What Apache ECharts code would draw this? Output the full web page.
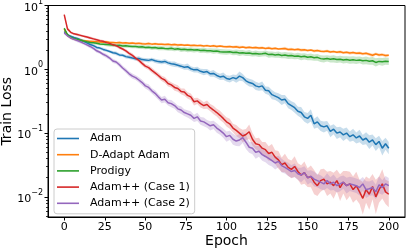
<!DOCTYPE html>
<html>
<head>
<meta charset="utf-8">
<script src="https://cdn.jsdelivr.net/npm/echarts@6/dist/echarts.min.js"></script>
<style>html,body{margin:0;padding:0;background:#fff}#c{width:407px;height:249px}</style>
</head>
<body>
<div id="c"></div>
<script>
// epochs sampled every 2
const epochs = Array.from({length: 101}, (_, i) => i * 2);
const xTicks = [0, 25, 50, 75, 100, 125, 150, 175, 200];
const yTicks = [0.01, 0.1, 1, 10];
const yMinorTicks = [0.005,0.006,0.007,0.008,0.009,0.02,0.03,0.04,0.05,0.06,0.07,0.08,0.09,0.2,0.3,0.4,0.5,0.6,0.7,0.8,0.9,2,3,4,5,6,7,8,9];
const names = ['Adam', 'D-Adapt Adam', 'Prodigy', 'Adam++ (Case 1)', 'Adam++ (Case 2)'];
const colors = ['#1f77b4', '#ff7f0e', '#2ca02c', '#d62728', '#9467bd'];
const bandColors = ['rgba(31,119,180,0.25)', 'rgba(255,127,14,0.25)', 'rgba(44,160,44,0.25)', 'rgba(214,39,40,0.22)', 'rgba(148,103,189,0.25)'];

const adam = [3.9,3.45,3.3,3.15,3.05,2.9,2.75,2.6,2.45,2.35,
 2.2,2.15,2.05,1.98,1.9,1.82,1.78,1.68,1.66,1.58,
 1.55,1.5,1.46,1.48,1.42,1.4,1.38,1.42,1.36,1.32,
 1.3,1.33,1.26,1.22,1.2,1.16,1.12,1.08,1.1,1.02,
 0.98,0.99,0.93,0.9,0.92,0.85,0.86,0.8,0.76,0.78,
 0.72,0.7,0.74,0.71,0.78,0.74,0.66,0.62,0.6,0.55,
 0.53,0.55,0.47,0.46,0.4,0.38,0.36,0.33,0.34,0.29,
 0.27,0.25,0.22,0.21,0.18,0.17,0.19,0.14,0.15,0.13,
 0.125,0.13,0.106,0.115,0.1,0.104,0.094,0.1,0.088,0.094,
 0.084,0.09,0.078,0.083,0.072,0.078,0.066,0.074,0.058,0.068,
 0.058];
const dadapt = [4.3,3.4,3.1,2.98,2.9,2.85,2.8,2.78,2.74,2.72,
 2.7,2.68,2.66,2.7,2.64,2.62,2.6,2.64,2.58,2.6,
 2.56,2.58,2.54,2.56,2.52,2.5,2.54,2.48,2.52,2.46,
 2.48,2.44,2.47,2.42,2.45,2.4,2.43,2.38,2.41,2.36,
 2.38,2.35,2.37,2.32,2.35,2.3,2.33,2.28,2.31,2.27,
 2.25,2.28,2.23,2.26,2.2,2.24,2.18,2.21,2.17,2.2,
 2.15,2.18,2.12,2.16,2.1,2.13,2.08,2.1,2.12,2.05,
 2.07,2.03,2.06,2.0,2.02,1.97,2.0,1.94,1.97,1.92,
 1.9,1.93,1.87,1.9,1.85,1.88,1.82,1.85,1.8,1.83,
 1.78,1.8,1.75,1.78,1.72,1.66,1.74,1.68,1.7,1.64,
 1.66];
const prodigy = [4.4,3.5,3.2,3.05,2.95,2.85,2.78,2.7,2.64,2.6,
 2.55,2.5,2.48,2.44,2.42,2.4,2.36,2.38,2.32,2.33,
 2.3,2.27,2.28,2.24,2.25,2.2,2.22,2.17,2.19,2.14,
 2.15,2.12,2.1,2.13,2.07,2.1,2.04,2.06,2.02,2.04,
 2.0,2.02,1.97,1.99,1.95,1.96,1.92,1.94,1.89,1.87,
 1.86,1.88,1.83,1.85,1.8,1.82,1.78,1.8,1.75,1.77,
 1.73,1.75,1.78,1.7,1.72,1.68,1.7,1.65,1.67,1.63,
 1.64,1.6,1.62,1.57,1.6,1.55,1.57,1.52,1.54,1.47,
 1.45,1.48,1.44,1.46,1.42,1.44,1.4,1.42,1.39,1.41,
 1.38,1.4,1.36,1.38,1.34,1.36,1.28,1.33,1.31,1.34,
 1.33];
const case1 = [7.2,4.3,3.8,3.6,3.5,3.4,3.3,3.2,3.1,3.0,
 2.9,2.8,2.75,2.62,2.55,2.42,2.35,2.2,2.08,1.95,
 1.78,1.65,1.5,1.38,1.24,1.12,1.06,0.96,0.88,0.8,
 0.72,0.68,0.6,0.57,0.52,0.5,0.45,0.44,0.39,0.37,
 0.31,0.32,0.29,0.27,0.28,0.25,0.23,0.21,0.19,0.17,
 0.15,0.14,0.12,0.11,0.1,0.09,0.095,0.105,0.08,0.068,
 0.066,0.058,0.055,0.048,0.05,0.042,0.038,0.032,0.034,0.029,
 0.027,0.03,0.025,0.022,0.024,0.02,0.021,0.017,0.015,0.018,
 0.019,0.016,0.017,0.015,0.018,0.014,0.017,0.015,0.016,0.013,
 0.015,0.012,0.0095,0.013,0.011,0.0145,0.01,0.013,0.016,0.012,
 0.011];
const case2 = [3.7,3.35,3.1,2.95,2.82,2.7,2.55,2.42,2.28,2.12,
 1.95,1.85,1.72,1.62,1.5,1.35,1.3,1.18,1.05,0.95,
 0.85,0.78,0.74,0.68,0.62,0.55,0.52,0.46,0.42,0.37,
 0.33,0.34,0.3,0.29,0.27,0.24,0.23,0.21,0.2,0.19,
 0.17,0.18,0.155,0.15,0.14,0.13,0.135,0.12,0.11,0.1,
 0.088,0.092,0.08,0.075,0.078,0.085,0.072,0.06,0.058,0.05,
 0.052,0.046,0.043,0.04,0.037,0.034,0.036,0.031,0.029,0.027,
 0.025,0.026,0.023,0.022,0.024,0.02,0.021,0.019,0.018,0.017,
 0.016,0.018,0.016,0.017,0.015,0.016,0.017,0.015,0.016,0.0155,
 0.015,0.014,0.016,0.013,0.0134,0.014,0.012,0.0155,0.014,0.016,
 0.015];

// band half-widths as multiplicative factors (upper = v*f, lower = v/f)
const adamSpread = [1.05,1.05,1.04,1.05,1.05,1.06,1.05,1.05,1.06,1.05,
 1.06,1.05,1.06,1.06,1.05,1.06,1.07,1.06,1.06,1.07,
 1.07,1.06,1.07,1.08,1.07,1.07,1.08,1.07,1.08,1.08,
 1.08,1.09,1.08,1.09,1.1,1.08,1.09,1.1,1.12,1.09,
 1.1,1.11,1.1,1.12,1.1,1.11,1.13,1.11,1.12,1.14,
 1.12,1.13,1.12,1.15,1.18,1.14,1.13,1.15,1.14,1.16,
 1.15,1.17,1.14,1.16,1.18,1.15,1.17,1.2,1.16,1.18,
 1.17,1.2,1.18,1.22,1.19,1.21,1.25,1.2,1.23,1.2,
 1.22,1.19,1.23,1.2,1.24,1.21,1.25,1.22,1.2,1.24,
 1.22,1.25,1.2,1.24,1.28,1.22,1.26,1.23,1.3,1.24,
 1.25];
const dadaptSpread = [1.04,1.04,1.03,1.04,1.04,1.03,1.04,1.04,1.03,1.04,
 1.04,1.03,1.04,1.05,1.04,1.04,1.03,1.04,1.05,1.04,
 1.04,1.05,1.04,1.04,1.05,1.04,1.05,1.04,1.04,1.05,
 1.05,1.04,1.05,1.04,1.05,1.05,1.04,1.05,1.04,1.05,
 1.04,1.05,1.05,1.04,1.05,1.04,1.05,1.05,1.04,1.05,
 1.05,1.04,1.05,1.05,1.06,1.04,1.05,1.05,1.04,1.05,
 1.05,1.05,1.04,1.06,1.05,1.05,1.04,1.05,1.06,1.05,
 1.05,1.04,1.05,1.06,1.05,1.05,1.04,1.06,1.05,1.05,
 1.05,1.06,1.05,1.04,1.05,1.06,1.05,1.05,1.06,1.05,
 1.05,1.06,1.05,1.05,1.06,1.07,1.05,1.06,1.05,1.06,
 1.05];
const prodigySpread = [1.05,1.05,1.04,1.05,1.05,1.05,1.06,1.05,1.05,1.06,
 1.06,1.06,1.05,1.06,1.07,1.06,1.06,1.07,1.06,1.07,
 1.07,1.06,1.07,1.07,1.08,1.07,1.07,1.08,1.07,1.08,
 1.08,1.07,1.08,1.09,1.08,1.08,1.09,1.08,1.09,1.09,
 1.09,1.08,1.09,1.1,1.09,1.09,1.1,1.09,1.1,1.1,
 1.1,1.09,1.1,1.1,1.11,1.1,1.1,1.11,1.1,1.11,
 1.11,1.1,1.11,1.12,1.11,1.11,1.12,1.11,1.12,1.12,
 1.12,1.11,1.12,1.13,1.12,1.12,1.13,1.12,1.13,1.13,
 1.13,1.12,1.13,1.14,1.13,1.13,1.14,1.13,1.14,1.14,
 1.14,1.13,1.14,1.15,1.14,1.15,1.16,1.14,1.15,1.14,
 1.14];
const case1Spread = [1.05,1.06,1.05,1.04,1.05,1.05,1.04,1.05,1.05,1.05,
 1.05,1.06,1.05,1.06,1.05,1.06,1.06,1.07,1.06,1.07,
 1.07,1.08,1.07,1.08,1.09,1.08,1.09,1.1,1.09,1.1,
 1.1,1.11,1.12,1.1,1.13,1.12,1.11,1.14,1.12,1.13,
 1.14,1.12,1.15,1.13,1.16,1.14,1.17,1.15,1.18,1.16,
 1.18,1.2,1.17,1.22,1.2,1.25,1.22,1.3,1.25,1.22,
 1.28,1.25,1.32,1.3,1.35,1.28,1.38,1.3,1.4,1.35,
 1.38,1.45,1.35,1.42,1.5,1.4,1.48,1.55,1.45,1.5,
 1.45,1.55,1.5,1.6,1.48,1.62,1.5,1.7,1.55,1.6,
 1.65,1.55,1.8,1.6,1.75,1.58,1.85,1.6,1.7,1.55,
 1.6];
const case2Spread = [1.05,1.05,1.06,1.05,1.06,1.06,1.05,1.06,1.07,1.06,
 1.07,1.06,1.07,1.08,1.07,1.08,1.07,1.09,1.08,1.09,
 1.09,1.1,1.09,1.1,1.11,1.1,1.12,1.1,1.12,1.11,
 1.12,1.13,1.11,1.14,1.12,1.13,1.15,1.13,1.14,1.16,
 1.14,1.16,1.15,1.17,1.15,1.18,1.16,1.19,1.17,1.18,
 1.2,1.18,1.22,1.2,1.25,1.21,1.28,1.22,1.24,1.26,
 1.22,1.25,1.23,1.27,1.24,1.26,1.23,1.28,1.25,1.27,
 1.25,1.28,1.24,1.3,1.26,1.28,1.25,1.3,1.27,1.29,
 1.26,1.3,1.27,1.32,1.28,1.3,1.27,1.33,1.29,1.3,
 1.3,1.33,1.28,1.35,1.3,1.32,1.29,1.36,1.3,1.33,
 1.32];

const means = [adam, dadapt, prodigy, case1, case2];
const spreads = [adamSpread, dadaptSpread, prodigySpread, case1Spread, case2Spread];

const FONT = 'DejaVu Sans';
const chart = echarts.init(document.getElementById('c'), null, {renderer: 'canvas'});

function bandSeries(k) {
  const m = means[k], s = spreads[k];
  return {
    type: 'custom', name: names[k] + ' band', silent: true, clip: true,
    xAxisIndex: 0, yAxisIndex: 0,
    data: [[epochs[0], m[0]]],
    renderItem: function (params, api) {
      const up = [], lo = [];
      for (let i = 0; i < epochs.length; i++) {
        up.push(api.coord([epochs[i], m[i] * s[i]]));
        lo.push(api.coord([epochs[i], m[i] / s[i]]));
      }
      return {type: 'polygon', shape: {points: up.concat(lo.reverse())}, style: {fill: bandColors[k], stroke: null}};
    }
  };
}
function lineSeries(k) {
  return {
    type: 'line', name: names[k], xAxisIndex: 0, yAxisIndex: 0,
    data: epochs.map((e, i) => [e, means[k][i]]),
    showSymbol: false, symbol: 'none', clip: true,
    lineStyle: {color: colors[k], width: 1.5},
    itemStyle: {color: colors[k]},
    emphasis: {disabled: true}
  };
}
const series = [];
for (let k = 0; k < 5; k++) { series.push(bandSeries(k)); series.push(lineSeries(k)); }

function yFmt(v) {
  const l = Math.log10(v);
  const e = Math.round(l);
  if (Math.abs(l - e) > 1e-6) return '';
  return '{b|10}{s|' + (e < 0 ? '\u2212' + (-e) : '' + e) + '}';
}

chart.setOption({
  animation: false,
  backgroundColor: '#fff',
  grid: {left: 48, right: 2, top: 5.5, bottom: 32, show: true, borderColor: '#000', borderWidth: 1, backgroundColor: 'transparent', containLabel: false, outerBoundsMode: 'none'},
  legend: {
    data: names, orient: 'vertical', left: 54, top: 129,
    icon: 'rect', itemWidth: 22, itemHeight: 1.6, itemGap: 3.2,
    padding: [3, 5, 4, 3],
    backgroundColor: 'rgba(255,255,255,0.8)', borderColor: '#cccccc', borderWidth: 1, borderRadius: 3,
    textStyle: {fontFamily: FONT, fontSize: 11, color: '#000', lineHeight: 13, padding: [0, 0, 0, 6]},
    selectedMode: false
  },
  xAxis: [{
    type: 'value', min: -10, max: 210,
    name: 'Epoch', nameLocation: 'middle', nameGap: 17, nameMoveOverlap: false,
    nameTextStyle: {fontFamily: FONT, fontSize: 14, color: '#000'},
    axisLine: {show: true, onZero: false, lineStyle: {color: '#000', width: 1}},
    axisTick: {show: true, length: 3.5, lineStyle: {color: '#000'}, customValues: xTicks},
    axisLabel: {fontFamily: FONT, fontSize: 11, color: '#000', margin: 5, customValues: xTicks},
    splitLine: {show: false}
  }],
  yAxis: [{
    type: 'log', logBase: 10, min: 0.00484, max: 10,
    name: 'Train Loss', nameLocation: 'middle', nameGap: 34, nameRotate: 90, nameMoveOverlap: false,
    nameTextStyle: {fontFamily: FONT, fontSize: 14, color: '#000'},
    axisLine: {show: true, onZero: false, lineStyle: {color: '#000', width: 1}},
    axisTick: {show: true, length: 3.5, lineStyle: {color: '#000'}, customValues: yTicks},
    axisLabel: {
      fontFamily: FONT, color: '#000', margin: 5, customValues: yTicks,
      formatter: yFmt,
      rich: {
        b: {fontFamily: FONT, fontSize: 11, color: '#000', verticalAlign: 'bottom', lineHeight: 16},
        s: {fontFamily: FONT, fontSize: 8, color: '#000', verticalAlign: 'top', lineHeight: 16}
      }
    },
    splitLine: {show: false}
  }, {
    type: 'log', logBase: 10, min: 0.00484, max: 10, position: 'left', offset: 0,
    axisLine: {show: false, onZero: false},
    axisTick: {show: true, length: 2, lineStyle: {color: '#000', width: 0.8}, customValues: yMinorTicks},
    axisLabel: {show: false},
    splitLine: {show: false}
  }],
  series: series
});
</script>
</body>
</html>
